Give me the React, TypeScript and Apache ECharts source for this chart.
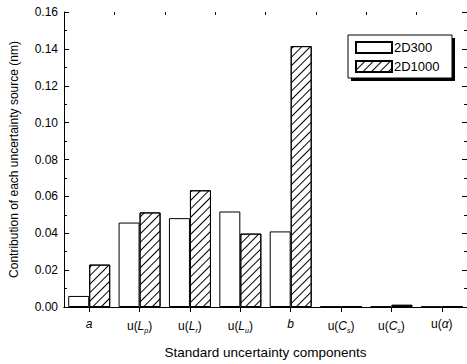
import React, { useEffect, useRef } from "react";
import * as echarts from "echarts";

const categories = ["a", "Lp", "Lr", "Lu", "b", "Cs1", "Cs2", "alpha"];
const tickLabels = [
  "{i|a}",
  "u({i|L}{s|p})",
  "u({i|L}{s|r})",
  "u({i|L}{s|u})",
  "{i|b}",
  "u({i|C}{s|s})",
  "u({i|C}{s|s})",
  "u({i|α})",
];
const series2D300 = [0.006, 0.0458, 0.0482, 0.0518, 0.041, 0.0003, 0.0003, 0.0002];
const series2D1000 = [0.023, 0.0513, 0.0633, 0.0398, 0.1415, 0.0005, 0.0012, 0.0003];
const yTicks = { min: 0, max: 0.16, interval: 0.02 };

const FONT = "Liberation Sans";

export default function App() {
  const ref = useRef<HTMLDivElement>(null);
  useEffect(() => {
    const chart = echarts.init(ref.current!, null, { renderer: "svg" });
    const labelMap: Record<string, string> = {};
    categories.forEach((c, i) => (labelMap[c] = tickLabels[i]));
    const common = {
      type: "category",
      data: categories,
      gridIndex: 0,
    };
    chart.setOption({
      animation: false,
      backgroundColor: "#fff",
      textStyle: { fontFamily: FONT, color: "#000" },
      grid: { left: 64, top: 12, width: 405, height: 298 },
      graphic: [
        { type: "rect", shape: { x: 351, y: 38, width: 104, height: 43 }, style: { fill: "#000" }, z: 10 },
        { type: "rect", shape: { x: 348, y: 35, width: 104, height: 43 }, style: { fill: "#fff", stroke: "#000", lineWidth: 1 }, z: 11 },
      ],
      legend: {
        left: 355,
        top: 41,
        orient: "vertical",
        padding: 0,
        itemWidth: 36,
        itemHeight: 11,
        itemGap: 6,
        icon: "rect",
        z: 20,
        textStyle: { fontFamily: FONT, fontSize: 13, color: "#000", padding: [0, 0, 0, -3] },
        data: ["2D300", "2D1000"],
      },
      xAxis: [
        {
          ...common,
          position: "bottom",
          axisLine: { lineStyle: { color: "#000", width: 1 } },
          axisTick: { show: false },
          axisLabel: {
            interval: 0,
            margin: 11,
            color: "#000",
            fontFamily: FONT,
            fontSize: 12,
            formatter: (v: string) => labelMap[v],
            rich: {
              i: { fontStyle: "italic", fontSize: 12, fontFamily: FONT, color: "#000" },
              s: { fontStyle: "italic", fontSize: 7, fontFamily: FONT, color: "#000", padding: [9, 0, 0, 0] },
            },
          },
          name: "Standard uncertainty components",
          nameLocation: "middle",
          nameGap: 38,
          nameTextStyle: { fontFamily: FONT, fontSize: 13.5, color: "#000" },
        },
        {
          ...common,
          position: "top",
          axisLine: { lineStyle: { color: "#000", width: 1 } },
          axisTick: { show: true, inside: true, length: 5, alignWithLabel: true, interval: 0, lineStyle: { color: "#000" } },
          axisLabel: { show: false },
        },
        {
          ...common,
          position: "top",
          axisLine: { show: false },
          axisTick: { show: true, inside: true, length: 3, interval: 0, lineStyle: { color: "#000" } },
          axisLabel: { show: false },
        },
      ],
      yAxis: [
        {
          type: "value",
          ...yTicks,
          position: "left",
          axisLine: { show: true, lineStyle: { color: "#000", width: 1 } },
          axisTick: { show: true, inside: true, length: 5, lineStyle: { color: "#000" } },
          minorTick: { show: true, splitNumber: 2, length: 3, lineStyle: { color: "#000" } },
          splitLine: { show: false },
          axisLabel: {
            margin: 6,
            color: "#000",
            fontFamily: FONT,
            fontSize: 12,
            formatter: (v: number) => v.toFixed(2),
          },
          name: "Contribution of each uncertainty source (nm)",
          nameLocation: "middle",
          nameGap: 44,
          nameTextStyle: { fontFamily: FONT, fontSize: 12, color: "#000" },
        },
        {
          type: "value",
          ...yTicks,
          position: "right",
          axisLine: { show: true, lineStyle: { color: "#000", width: 1 } },
          axisTick: { show: true, inside: true, length: 5, lineStyle: { color: "#000" } },
          minorTick: { show: true, splitNumber: 2, length: 3, lineStyle: { color: "#000" } },
          splitLine: { show: false },
          axisLabel: { show: false },
        },
      ],
      series: [
        {
          name: "2D300",
          type: "bar",
          data: series2D300,
          barWidth: 21,
          barGap: "0%",
          itemStyle: { color: "#fff", borderColor: "#000", borderWidth: 1 },
        },
        {
          name: "2D1000",
          type: "bar",
          data: series2D1000,
          barWidth: 21,
          barGap: "0%",
          itemStyle: {
            color: "#fff",
            borderColor: "#000",
            borderWidth: 1,
            decal: {
              symbol: "rect",
              color: "#000",
              dashArrayX: [1, 0],
              dashArrayY: [1, 5],
              rotation: -Math.PI / 4,
            },
          },
        },
      ],
    });
    return () => chart.dispose();
  }, []);
  return (
    <div
      ref={ref}
      style={{ position: "absolute", left: 0, top: 0, width: 467, height: 364 }}
    />
  );
}
